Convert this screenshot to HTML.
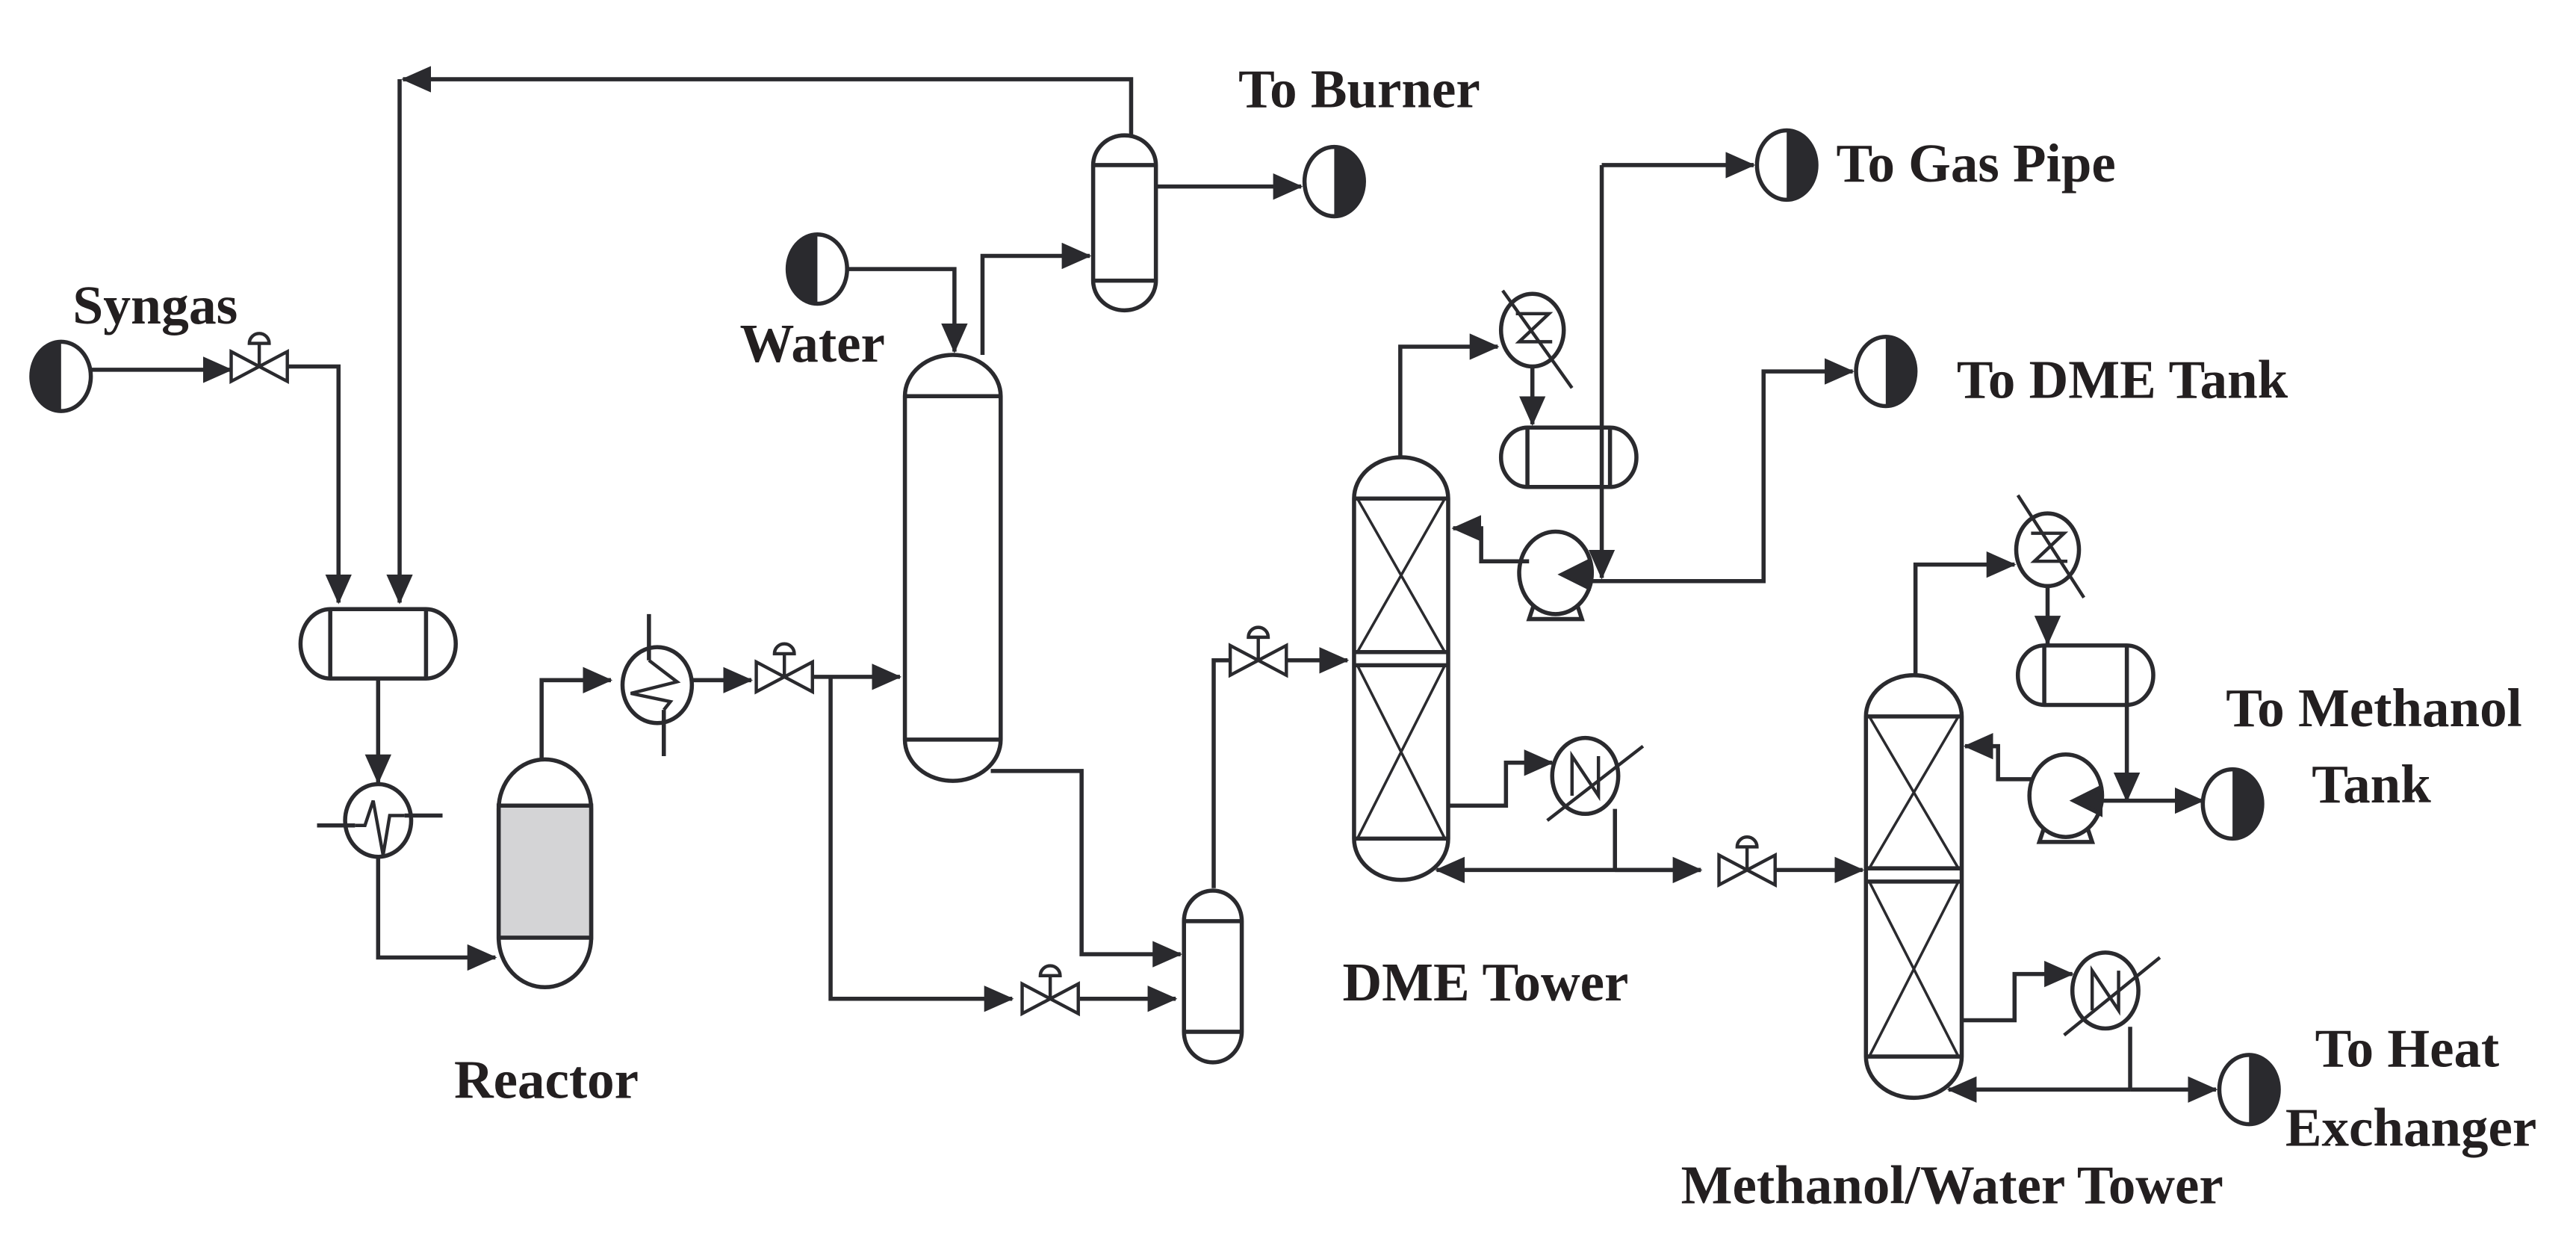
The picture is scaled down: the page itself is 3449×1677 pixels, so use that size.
<!DOCTYPE html>
<html><head><meta charset="utf-8"><style>
html,body{margin:0;padding:0;background:#fff;}
svg{display:block;}
text{font-family:"Liberation Serif",serif;font-weight:bold;fill:#231f20;}
</style></head><body>
<svg width="3449" height="1677" viewBox="0 0 1560 759" preserveAspectRatio="none" xmlns="http://www.w3.org/2000/svg">
<defs>
<marker id="a" markerUnits="userSpaceOnUse" markerWidth="18" markerHeight="16" refX="17" refY="8" orient="auto"><path d="M0,0 L18,8 L0,16Z" fill="#2a2a2e"/></marker>
<g id="srcL"><ellipse cx="0" cy="0" rx="18" ry="21" fill="#fff" stroke="#2a2a2e" stroke-width="2.5"/><path d="M0,-21 A18,21 0 0 0 0,21Z" fill="#2a2a2e"/></g>
<g id="srcR"><ellipse cx="0" cy="0" rx="18" ry="21" fill="#fff" stroke="#2a2a2e" stroke-width="2.5"/><path d="M0,-21 A18,21 0 0 1 0,21Z" fill="#2a2a2e"/></g>
<g id="valve" fill="#fff" stroke="#2a2a2e" stroke-width="2"><path d="M-17,-9 L17,9 L17,-9 L-17,9Z"/><line x1="0" y1="0" x2="0" y2="-14"/><path d="M-6,-14 A6,6 0 0 1 6,-14Z"/></g>
<g id="pump" fill="#fff" stroke="#2a2a2e" stroke-width="2.5"><path d="M-12,16 L-16,28 L16,28 L12,16"/><ellipse cx="0" cy="0" rx="22" ry="25"/></g>
</defs>
<g fill="none" stroke="#2a2a2e" stroke-width="2.5">
<polyline points="55,224 140,224" marker-end="url(#a)"/>
<polyline points="174,222 205,222 205,365" marker-end="url(#a)"/>
<polyline points="685,82 685,48 244,48" marker-end="url(#a)"/>
<polyline points="242,48 242,365" marker-end="url(#a)"/>
<path d="M200,369 L258,369 A18,21 0 0 1 258,411 L200,411 A18,21 0 0 1 200,369Z" fill="#fff"/>
<line x1="200" y1="369" x2="200" y2="411"/><line x1="258" y1="369" x2="258" y2="411"/>
<polyline points="229,411 229,474" marker-end="url(#a)"/>
<ellipse cx="229" cy="497" rx="20" ry="22" fill="#fff"/>
<line x1="192" y1="500" x2="215" y2="500"/><line x1="245" y1="494" x2="268" y2="494"/>
<polyline points="215,500 221,500 226,485 232,518 236,494 245,494" stroke-width="2"/>
<polyline points="229,519 229,580 300,580" marker-end="url(#a)"/>
<path d="M302,490 A28,30 0 0 1 358,490 L358,568 A28,30 0 0 1 302,568Z" fill="#fff"/>
<rect x="302" y="488" width="56" height="80" fill="#d4d4d6" stroke="#2a2a2e"/>
<polyline points="328,460 328,412 370,412" marker-end="url(#a)"/>
<ellipse cx="398" cy="415" rx="21" ry="23" fill="#fff"/>
<line x1="393" y1="372" x2="393" y2="400"/><line x1="402" y1="430" x2="402" y2="458"/>
<polyline points="393,400 410,413 382,420 406,425 402,430" stroke-width="2"/>
<polyline points="419,412 455,412" marker-end="url(#a)"/>
<polyline points="492,410 545,410" marker-end="url(#a)"/>
<polyline points="503,410 503,605 613,605" marker-end="url(#a)"/>
<polyline points="654,605 712,605" marker-end="url(#a)"/>
<path d="M548,240 A29,25 0 0 1 606,240 L606,448 A29,25 0 0 1 548,448Z" fill="#fff"/>
<line x1="548" y1="240" x2="606" y2="240"/><line x1="548" y1="448" x2="606" y2="448"/>
<polyline points="513,163 578,163 578,213" marker-end="url(#a)"/>
<polyline points="595,215 595,155 660,155" marker-end="url(#a)"/>
<path d="M662,100 A19,18 0 0 1 700,100 L700,170 A19,18 0 0 1 662,170Z" fill="#fff"/>
<line x1="662" y1="100" x2="700" y2="100"/><line x1="662" y1="170" x2="700" y2="170"/>
<polyline points="700,113 788,113" marker-end="url(#a)"/>
<polyline points="600,467 655,467 655,578 715,578" marker-end="url(#a)"/>
<path d="M717,558 A17,18 0 0 1 752,558 L752,625 A17,18 0 0 1 717,625Z" fill="#fff"/>
<line x1="717" y1="558" x2="752" y2="558"/><line x1="717" y1="625" x2="752" y2="625"/>
<polyline points="735,538 735,400 745,400"/>
<polyline points="780,400 816,400" marker-end="url(#a)"/>
<path d="M820,302 A28.5,25 0 0 1 877,302 L877,508 A28.5,25 0 0 1 820,508Z" fill="#fff"/>
<line x1="820" y1="302" x2="877" y2="302"/><line x1="820" y1="395" x2="877" y2="395"/><line x1="820" y1="403" x2="877" y2="403"/><line x1="820" y1="508" x2="877" y2="508"/>
<path d="M822,302 L875,395 M875,302 L822,395 M822,403 L875,508 M875,403 L822,508" stroke-width="1.6"/>
<polyline points="848,277 848,210 907,210" marker-end="url(#a)"/>
<ellipse cx="928" cy="200" rx="19" ry="22" fill="#fff"/>
<line x1="910" y1="176" x2="952" y2="235" stroke-width="2"/>
<polyline points="918,190 938,190 920,207 940,207" stroke-width="2"/>
<polyline points="928,222 928,257" marker-end="url(#a)"/>
<path d="M925,259 L975,259 A16,18 0 0 1 975,295 L925,295 A16,18 0 0 1 925,259Z" fill="#fff"/>
<line x1="925" y1="259" x2="925" y2="295"/><line x1="975" y1="259" x2="975" y2="295"/>
<polyline points="970,100 1062,100" marker-end="url(#a)"/>
<polyline points="970,100 970,350" marker-end="url(#a)"/>
<use href="#pump" x="942" y="347"/>
<polyline points="926,340 897,340 897,320 880,320" marker-end="url(#a)"/>
<polyline points="963,352 1068,352 1068,225 1122,225" marker-end="url(#a)"/>
<path d="M962,340 L946,348 L962,356Z" fill="#2a2a2e"/>
<polyline points="877,488 912,488 912,462 940,462" marker-end="url(#a)"/>
<ellipse cx="960" cy="470" rx="20" ry="23" fill="#fff"/>
<line x1="937" y1="497" x2="995" y2="452" stroke-width="2"/>
<polyline points="952,482 952,458 968,482 968,458" stroke-width="2"/>
<line x1="978" y1="490" x2="978" y2="527"/>
<polyline points="1030,527 870,527" marker-end="url(#a)"/>
<polyline points="978,527 1030,527" marker-end="url(#a)"/>
<polyline points="1075,527 1128,527" marker-end="url(#a)"/>
<path d="M1130,434 A29,25 0 0 1 1188,434 L1188,640 A29,25 0 0 1 1130,640Z" fill="#fff"/>
<line x1="1130" y1="434" x2="1188" y2="434"/><line x1="1130" y1="526" x2="1188" y2="526"/><line x1="1130" y1="534" x2="1188" y2="534"/><line x1="1130" y1="640" x2="1188" y2="640"/>
<path d="M1132,434 L1186,526 M1186,434 L1132,526 M1132,534 L1186,640 M1186,534 L1132,640" stroke-width="1.6"/>
<polyline points="1160,408 1160,342 1220,342" marker-end="url(#a)"/>
<ellipse cx="1240" cy="333" rx="19" ry="22" fill="#fff"/>
<line x1="1222" y1="300" x2="1262" y2="362" stroke-width="2"/>
<polyline points="1230,323 1250,323 1232,340 1252,340" stroke-width="2"/>
<polyline points="1240,355 1240,390" marker-end="url(#a)"/>
<path d="M1238,391 L1288,391 A16,18 0 0 1 1288,427 L1238,427 A16,18 0 0 1 1238,391Z" fill="#fff"/>
<line x1="1238" y1="391" x2="1238" y2="427"/><line x1="1288" y1="391" x2="1288" y2="427"/>
<polyline points="1288,427 1288,485" marker-end="url(#a)"/>
<use href="#pump" x="1251" y="482"/>
<polyline points="1230,472 1210,472 1210,452 1190,452" marker-end="url(#a)"/>
<polyline points="1272,485 1334,485" marker-end="url(#a)"/>
<path d="M1272,477 L1256,485 L1272,493Z" fill="#2a2a2e"/>
<polyline points="1188,618 1220,618 1220,590 1255,590" marker-end="url(#a)"/>
<ellipse cx="1275" cy="600" rx="20" ry="23" fill="#fff"/>
<line x1="1250" y1="627" x2="1308" y2="580" stroke-width="2"/>
<polyline points="1267,612 1267,588 1283,612 1283,588" stroke-width="2"/>
<line x1="1290" y1="622" x2="1290" y2="660"/>
<polyline points="1290,660 1180,660" marker-end="url(#a)"/>
<polyline points="1290,660 1342,660" marker-end="url(#a)"/>
</g>
<use href="#valve" x="157" y="222"/>
<use href="#valve" x="475" y="410"/>
<use href="#valve" x="636" y="605"/>
<use href="#valve" x="762" y="400"/>
<use href="#valve" x="1058" y="527"/>
<use href="#srcL" x="37" y="228"/>
<use href="#srcL" x="495" y="163"/>
<use href="#srcR" x="808" y="110"/>
<use href="#srcR" x="1082" y="100"/>
<use href="#srcR" x="1142" y="225"/>
<use href="#srcR" x="1352" y="487"/>
<use href="#srcR" x="1362" y="660"/>
<g font-size="33">
<text x="44" y="196" textLength="100" lengthAdjust="spacingAndGlyphs">Syngas</text>
<text x="448" y="219">Water</text>
<text x="275" y="665">Reactor</text>
<text x="750" y="65">To Burner</text>
<text x="1112" y="110">To Gas Pipe</text>
<text x="1185" y="241">To DME Tank</text>
<text x="813" y="606">DME Tower</text>
<text x="1018" y="729">Methanol/Water Tower</text>
<text x="1348" y="440">To Methanol</text>
<text x="1400" y="486">Tank</text>
<text x="1402" y="646">To Heat</text>
<text x="1384" y="694">Exchanger</text>
</g>
</svg>
</body></html>
